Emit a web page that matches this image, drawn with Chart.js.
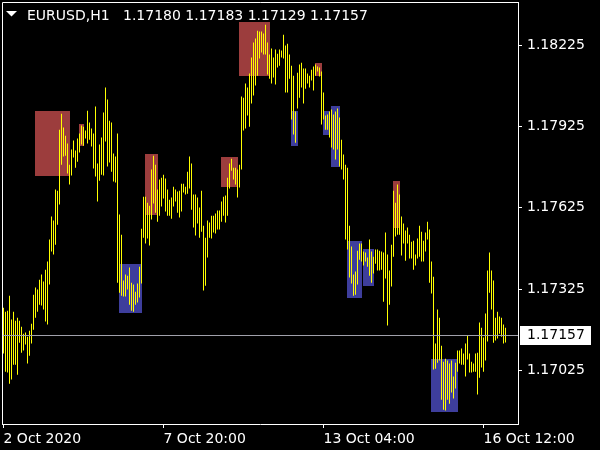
<!DOCTYPE html>
<html><head><meta charset="utf-8">
<script src="https://cdn.jsdelivr.net/npm/chart.js@4.4.1/dist/chart.umd.min.js"></script>
<style>html,body{margin:0;padding:0;background:#000;overflow:hidden}canvas{display:block}</style>
</head><body>
<canvas id="c" width="600" height="450"></canvas>
<script>
const symbolTitle = 'EURUSD,H1';
const lastOHLC = [1.17180, 1.17183, 1.17129, 1.17157];

const highs = [
1.17257,1.17242,1.17246,1.17301,1.17213,1.17242,1.17209,1.17220,1.17209,1.17187,
1.17161,1.17165,1.17150,1.17172,1.17198,1.17305,1.17331,1.17324,1.17360,1.17379,
1.17353,1.17397,1.17427,1.17508,1.17593,1.17578,1.17692,1.17688,1.17913,1.17972,
1.17921,1.17891,1.17862,1.17784,1.17840,1.17873,1.17836,1.17880,1.17899,1.17928,
1.17924,1.17910,1.17983,1.17939,1.17917,1.17899,1.17998,1.17788,1.17858,1.17884,
1.17976,1.18068,1.18024,1.17946,1.17939,1.17825,1.17814,1.17899,1.17600,1.17526,
1.17357,1.17379,1.17375,1.17405,1.17349,1.17342,1.17316,1.17346,1.17408,1.17548,
1.17666,1.17666,1.17644,1.17633,1.17766,1.17817,1.17784,1.17692,1.17729,1.17736,
1.17747,1.17733,1.17692,1.17655,1.17663,1.17703,1.17692,1.17685,1.17688,1.17714,
1.17714,1.17703,1.17758,1.17814,1.17788,1.17674,1.17674,1.17663,1.17626,1.17688,
1.17559,1.17515,1.17578,1.17571,1.17596,1.17596,1.17604,1.17615,1.17615,1.17648,
1.17666,1.17670,1.17736,1.17788,1.17806,1.17773,1.17773,1.17766,1.17784,1.18035,
1.18031,1.18083,1.18068,1.18120,1.18179,1.18234,1.18249,1.18278,1.18275,1.18275,
1.18267,1.18300,1.18234,1.18190,1.18212,1.18179,1.18208,1.18193,1.18208,1.18205,
1.18263,1.18223,1.18230,1.18190,1.18149,1.18112,1.17980,1.18123,1.18153,1.18160,
1.18138,1.18138,1.18120,1.18112,1.18134,1.18146,1.18153,1.18146,1.18142,1.18127,
1.18050,1.17965,1.17969,1.17980,1.17987,1.17969,1.17980,1.17991,1.17958,1.17876,
1.17821,1.17784,1.17773,1.17559,1.17482,1.17379,1.17390,1.17467,1.17493,1.17493,
1.17464,1.17460,1.17442,1.17508,1.17464,1.17445,1.17471,1.17471,1.17467,1.17464,
1.17460,1.17534,1.17453,1.17394,1.17489,1.17688,1.17644,1.17711,1.17674,1.17593,
1.17567,1.17541,1.17552,1.17526,1.17500,1.17504,1.17453,1.17512,1.17559,1.17537,
1.17504,1.17534,1.17574,1.17545,1.17427,1.17371,1.17125,1.17250,1.17220,1.17117,
1.17058,1.17069,1.17062,1.17051,1.17062,1.17003,1.17054,1.17099,1.17099,1.17106,
1.17088,1.17125,1.17154,1.17088,1.17058,1.17051,1.17088,1.17091,1.17202,1.17183,
1.17147,1.17235,1.17394,1.17460,1.17394,1.17357,1.17220,1.17242,1.17224,1.17220,
1.17195,1.17183
];
const lows = [
1.17088,1.17021,1.17018,1.16977,1.16992,1.17047,1.17047,1.17010,1.17128,1.17091,
1.17099,1.17121,1.17051,1.17080,1.17125,1.17176,1.17220,1.17242,1.17268,1.17265,
1.17250,1.17206,1.17195,1.17342,1.17464,1.17453,1.17489,1.17563,1.17637,1.17784,
1.17814,1.17817,1.17751,1.17711,1.17744,1.17810,1.17773,1.17795,1.17829,1.17858,
1.17854,1.17880,1.17862,1.17876,1.17851,1.17770,1.17740,1.17648,1.17725,1.17747,
1.17744,1.17869,1.17777,1.17792,1.17758,1.17722,1.17718,1.17349,1.17312,1.17301,
1.17298,1.17298,1.17324,1.17268,1.17246,1.17242,1.17268,1.17276,1.17294,1.17346,
1.17515,1.17493,1.17512,1.17486,1.17582,1.17641,1.17607,1.17574,1.17596,1.17630,
1.17659,1.17611,1.17596,1.17596,1.17585,1.17630,1.17648,1.17607,1.17589,1.17611,
1.17681,1.17674,1.17677,1.17696,1.17618,1.17552,1.17523,1.17567,1.17515,1.17537,
1.17320,1.17338,1.17442,1.17515,1.17512,1.17534,1.17530,1.17545,1.17545,1.17574,
1.17596,1.17571,1.17596,1.17696,1.17762,1.17729,1.17711,1.17663,1.17700,1.17766,
1.17910,1.17917,1.17965,1.17924,1.18009,1.18039,1.18076,1.18112,1.18175,1.18197,
1.18190,1.18190,1.18116,1.18101,1.18083,1.18105,1.18079,1.18142,1.18149,1.18179,
1.18175,1.18050,1.18050,1.18101,1.17950,1.17895,1.17865,1.17991,1.18031,1.18068,
1.18009,1.18064,1.18083,1.18068,1.18094,1.18057,1.18112,1.18127,1.18109,1.17932,
1.17950,1.17913,1.17913,1.17884,1.17847,1.17840,1.17803,1.17840,1.17777,1.17766,
1.17729,1.17508,1.17471,1.17368,1.17346,1.17301,1.17305,1.17342,1.17434,1.17427,
1.17412,1.17427,1.17408,1.17375,1.17349,1.17383,1.17419,1.17394,1.17394,1.17397,
1.17279,1.17364,1.17191,1.17268,1.17335,1.17445,1.17519,1.17526,1.17526,1.17449,
1.17493,1.17430,1.17493,1.17438,1.17438,1.17397,1.17412,1.17438,1.17445,1.17427,
1.17427,1.17464,1.17508,1.17349,1.17309,1.17029,1.17032,1.17054,1.17062,1.16918,
1.16881,1.16878,1.16918,1.16903,1.16944,1.16922,1.16959,1.17021,1.17051,1.17047,
1.17047,1.17003,1.17066,1.17018,1.17018,1.17021,1.17021,1.16937,1.16999,1.17036,
1.17021,1.17062,1.17132,1.17312,1.17250,1.17128,1.17136,1.17143,1.17161,1.17150,
1.17125,1.17129
];

const xTickIndex = [0, 80, 160, 240];
const xTickText = ['2 Oct 2020', '7 Oct 20:00', '13 Oct 04:00', '16 Oct 12:00'];
const yTicks = [1.18225, 1.17925, 1.17625, 1.17325, 1.17025];

const zoneFrom = [16, 38, 58, 71, 109, 118, 144, 156, 160, 164, 172, 180, 195, 214];
const zoneTo   = [33, 40, 69, 77, 117, 133, 147, 159, 163, 168, 179, 185, 198, 227];
const zoneHigh = [1.17983, 1.17935, 1.17419, 1.17825, 1.17814, 1.18311, 1.17980, 1.18160, 1.17980, 1.18002, 1.17504, 1.17475, 1.17722, 1.17066];
const zoneLow  = [1.17744, 1.17851, 1.17239, 1.17600, 1.17703, 1.18109, 1.17854, 1.18109, 1.17895, 1.17777, 1.17294, 1.17338, 1.17552, 1.16874];
const zoneType = ['supply','supply','demand','supply','supply','supply','demand','supply','demand','demand','demand','demand','supply','demand'];

const FONT = 'DejaVu Sans';
const barData = highs.map((h, i) => ({x: i, y: [lows[i], h]}));

const zonesPlugin = {
  id: 'zones',
  beforeDraw(chart) {
    const ctx = chart.ctx;
    ctx.save(); ctx.fillStyle = '#000'; ctx.fillRect(0, 0, chart.width, chart.height); ctx.restore();
  },
  beforeDatasetsDraw(chart) {
    const ctx = chart.ctx, xs = chart.scales.x, ys = chart.scales.y;
    ctx.save();
    for (let k = 0; k < zoneFrom.length; k++) {
      const x1 = Math.round(xs.getPixelForValue(zoneFrom[k]) - 0.5);
      const x2 = Math.round(xs.getPixelForValue(zoneTo[k]) + 0.5);
      const y1 = Math.round(ys.getPixelForValue(zoneHigh[k]));
      const y2 = Math.round(ys.getPixelForValue(zoneLow[k]));
      ctx.fillStyle = zoneType[k] === 'supply' ? '#9c3d3d' : '#3e3e9c';
      ctx.fillRect(x1, y1, x2 - x1, y2 - y1);
    }
    ctx.restore();
  },
  afterDatasetsDraw(chart) {
    const ctx = chart.ctx, ca = chart.chartArea, ys = chart.scales.y;
    const y = Math.round(ys.getPixelForValue(lastOHLC[3])) + 0.5;
    ctx.save();
    ctx.strokeStyle = '#a0a0aa'; ctx.lineWidth = 1;
    ctx.beginPath(); ctx.moveTo(ca.left, y); ctx.lineTo(ca.right, y); ctx.stroke();
    ctx.restore();
  },
  afterDraw(chart) {
    const ctx = chart.ctx, ca = chart.chartArea, ys = chart.scales.y;
    ctx.save();
    // frame top & left
    ctx.strokeStyle = '#fff'; ctx.lineWidth = 1;
    ctx.beginPath();
    ctx.moveTo(ca.left + 0.5, ca.bottom + 1); ctx.lineTo(ca.left + 0.5, ca.top + 0.5); ctx.lineTo(ca.right + 1, ca.top + 0.5);
    ctx.stroke();
    // current price label
    const y = Math.round(ys.getPixelForValue(lastOHLC[3]));
    ctx.fillStyle = '#fff';
    ctx.fillRect(520, y - 9, 71, 19);
    ctx.fillStyle = '#000';
    ctx.font = '14px "' + FONT + '"';
    ctx.textBaseline = 'middle'; ctx.textAlign = 'left';
    ctx.fillText(lastOHLC[3].toFixed(5), 527, y + 0.5);
    // header
    ctx.fillStyle = '#fff';
    ctx.beginPath(); ctx.moveTo(6, 11); ctx.lineTo(17, 11); ctx.lineTo(11.5, 16.5); ctx.closePath(); ctx.fill();
    ctx.textBaseline = 'alphabetic';
    ctx.fillText(symbolTitle + '   ' + lastOHLC.map(v => v.toFixed(5)).join(' '), 27, 20);
    ctx.restore();
  }
};

new Chart(document.getElementById('c'), {
  type: 'bar',
  data: { datasets: [{ data: barData, backgroundColor: '#ffff00', borderWidth: 0, barThickness: 1, inflateAmount: 0, grouped: false }] },
  options: {
    responsive: false, animation: false, devicePixelRatio: 1,
    layout: { padding: { left: 2, top: 2, right: 0, bottom: 0 } },
    plugins: { legend: { display: false }, tooltip: { enabled: false } },
    scales: {
      x: {
        type: 'linear', min: -0.75, max: 257.25, offset: false,
        grid: { display: true, drawOnChartArea: false, drawTicks: true, tickLength: 4, color: '#fff', offset: false },
        border: { display: true, color: '#fff', width: 1 },
        ticks: { color: '#fff', font: { family: FONT, size: 14 }, padding: 3, align: 'start', autoSkip: false, maxRotation: 0, minRotation: 0,
          callback: (v) => { const k = xTickIndex.indexOf(v); return k >= 0 ? xTickText[k] : ''; } },
        afterBuildTicks: (s) => { s.ticks = xTickIndex.map(v => ({ value: v })); },
        afterFit: (s) => { s.height = 26; s.paddingLeft = 0; s.paddingRight = 0; }
      },
      y: {
        type: 'linear', position: 'right', min: 1.168282, max: 1.183835, beginAtZero: false,
        grid: { display: true, drawOnChartArea: false, drawTicks: true, tickLength: 4, color: '#fff' },
        border: { display: true, color: '#fff', width: 1 },
        ticks: { color: '#fff', font: { family: FONT, size: 14 }, padding: 5, callback: (v) => Number(v).toFixed(5) },
        afterBuildTicks: (s) => { s.ticks = yTicks.map(v => ({ value: v })); },
        afterFit: (s) => { s.width = 82; s.paddingTop = 0; s.paddingBottom = 0; }
      }
    }
  },
  plugins: [zonesPlugin]
});
</script>
</body></html>
